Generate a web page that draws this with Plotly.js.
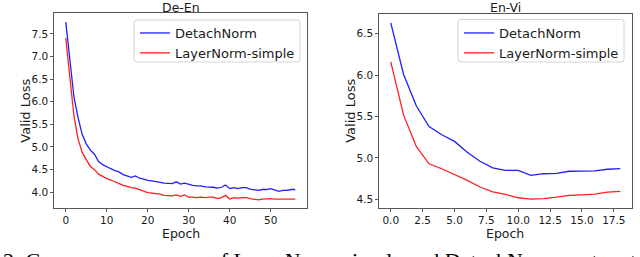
<!DOCTYPE html>
<html>
<head>
<meta charset="utf-8">
<script src="https://cdn.plot.ly/plotly-3.0.1.min.js"></script>
<style>
html,body{margin:0;padding:0;background:#fff;}
#chart{width:640px;height:257px;}
</style>
</head>
<body>
<div id="chart"></div>
<script>
// ---- data ----
const deEnEpochs = Array.from({length: 57}, (_, i) => i);
const deEnDetach = [7.76, 6.95, 6.10, 5.65, 5.28, 5.07, 4.93, 4.84, 4.68, 4.61,
  4.56, 4.52, 4.48, 4.45, 4.39, 4.36, 4.33, 4.36, 4.31, 4.29,
  4.26, 4.25, 4.24, 4.22, 4.20, 4.20, 4.19, 4.23, 4.18, 4.20,
  4.17, 4.15, 4.14, 4.14, 4.12, 4.12, 4.11, 4.09, 4.11, 4.16,
  4.08, 4.10, 4.08, 4.10, 4.10, 4.07, 4.05, 4.04, 4.06, 4.06,
  4.08, 4.05, 4.02, 4.04, 4.04, 4.06, 4.06];
const deEnSimple = [7.41, 6.55, 5.68, 5.18, 4.88, 4.72, 4.57, 4.50, 4.40, 4.35,
  4.30, 4.27, 4.23, 4.19, 4.15, 4.13, 4.10, 4.09, 4.06, 4.03,
  3.99, 3.98, 3.97, 3.96, 3.93, 3.92, 3.92, 3.94, 3.91, 3.94,
  3.89, 3.89, 3.88, 3.89, 3.88, 3.89, 3.89, 3.86, 3.88, 3.93,
  3.85, 3.88, 3.87, 3.88, 3.88, 3.86, 3.84, 3.83, 3.85, 3.86,
  3.86, 3.85, 3.85, 3.85, 3.86, 3.86, 3.85];

const enViEpochs = Array.from({length: 19}, (_, i) => i);
const enViDetach = [6.63, 6.01, 5.63, 5.38, 5.28, 5.20, 5.07, 4.96, 4.88, 4.85,
  4.85, 4.79, 4.81, 4.815, 4.84, 4.844, 4.844, 4.864, 4.872];
const enViSimple = [6.16, 5.52, 5.14, 4.93, 4.87, 4.80, 4.73, 4.65, 4.59, 4.56,
  4.52, 4.504, 4.51, 4.528, 4.55, 4.556, 4.564, 4.588, 4.596];

const seriesNames = ["DetachNorm", "LayerNorm-simple"];
const panelTitles = ["De-En", "En-Vi"];
const deEnXTicks = [0, 10, 20, 30, 40, 50];
const deEnYTicks = [4.0, 4.5, 5.0, 5.5, 6.0, 6.5, 7.0, 7.5];
const enViXTicks = [0, 2.5, 5, 7.5, 10, 12.5, 15, 17.5];
const enViYTicks = [4.5, 5.0, 5.5, 6.0, 6.5];
const xTitle = "Epoch";
const yTitle = "Valid Loss";
const caption = "Figure 2: Convergence curves of LayerNorm-simple and DetachNorm on two translation datasets.";

// ---- styles ----
const FONT = "DejaVu Sans, sans-serif";
const W = 640, H = 257;
const px = v => v / W, py = v => 1 - v / H;
const lineCol = "#555";
const txtCol = "#1a1a1a";

function trace(x, y, name, color, xa, ya, legend) {
  return {x, y, name, type: "scatter", mode: "lines",
    line: {color, width: 1.3}, xaxis: xa, yaxis: ya, legend};
}

const data = [
  trace(deEnEpochs, deEnDetach, seriesNames[0], "#1f1fff", "x", "y", "legend"),
  trace(deEnEpochs, deEnSimple, seriesNames[1], "#ff1f1f", "x", "y", "legend"),
  trace(enViEpochs, enViDetach, seriesNames[0], "#1f1fff", "x2", "y2", "legend2"),
  trace(enViEpochs, enViSimple, seriesNames[1], "#ff1f1f", "x2", "y2", "legend2")
];

function axisBase(len) {
  return {showgrid: false, zeroline: false, showline: true, mirror: true,
    linecolor: lineCol, linewidth: 1, ticks: "outside", ticklen: len, tickcolor: lineCol,
    tickfont: {family: FONT, size: 10.5, color: txtCol}, automargin: false};
}
function xaxis(domain, range, ticks, fmt, anchor) {
  return Object.assign(axisBase(2.5), {domain, range, tickvals: ticks, tickformat: fmt, anchor});
}
function yaxis(domain, range, ticks, anchor) {
  return Object.assign(axisBase(3), {domain, range, tickvals: ticks, tickformat: ".1f", anchor});
}

function legend(x, yTop) {
  return {x: px(x), y: py(yTop), xanchor: "left", yanchor: "top",
    bgcolor: "rgba(0,0,0,0)", borderwidth: 0,
    font: {family: FONT, size: 13, color: txtCol}, tracegroupgap: 0};
}

function roundBox(x0, y0, x1, y1, r) {
  const X = v => px(v), Y = v => py(v);
  return {type: "path", xref: "paper", yref: "paper", layer: "below",
    path: `M ${X(x0 + r)} ${Y(y0)} L ${X(x1 - r)} ${Y(y0)} Q ${X(x1)} ${Y(y0)} ${X(x1)} ${Y(y0 + r)} ` +
          `L ${X(x1)} ${Y(y1 - r)} Q ${X(x1)} ${Y(y1)} ${X(x1 - r)} ${Y(y1)} ` +
          `L ${X(x0 + r)} ${Y(y1)} Q ${X(x0)} ${Y(y1)} ${X(x0)} ${Y(y1 - r)} ` +
          `L ${X(x0)} ${Y(y0 + r)} Q ${X(x0)} ${Y(y0)} ${X(x0 + r)} ${Y(y0)} Z`,
    line: {color: "#d4d4d4", width: 1}, fillcolor: "#fff"};
}

function ann(text, x, y, size, extra) {
  return Object.assign({text, xref: "paper", yref: "paper", x: px(x), y: py(y),
    xanchor: "center", yanchor: "middle", showarrow: false, borderpad: 0,
    font: {family: FONT, size, color: txtCol}}, extra || {});
}

const layout = {
  width: W, height: H,
  margin: {l: 0, r: 0, t: 0, b: 0},
  paper_bgcolor: "#fff", plot_bgcolor: "#fff",
  showlegend: true,
  xaxis: xaxis([px(54.3), px(306.7)], [-2.8, 58.8], deEnXTicks, "d", "y"),
  yaxis: yaxis([py(208.3), py(13.3)], [3.645, 7.955], deEnYTicks, "x"),
  xaxis2: xaxis([px(379.3), px(631.7)], [-0.9, 18.9], enViXTicks, ".1f", "y2"),
  yaxis2: yaxis([py(208.3), py(14)], [4.393, 6.737], enViYTicks, "x2"),
  legend: legend(135, 18),
  legend2: legend(459, 18),
  shapes: [roundBox(134, 20, 300, 62, 3), roundBox(458, 19.5, 624, 62, 3)],
  annotations: [
    ann(panelTitles[0], 180.5, 7.5, 12.5),
    ann(panelTitles[1], 505.5, 7.5, 12.5),
    ann(yTitle, 26, 110.7, 13, {textangle: -90}),
    ann(yTitle, 350.5, 111.3, 13, {textangle: -90}),
    ann(xTitle, 181, 233.5, 12.5),
    ann(xTitle, 505, 233.5, 12.5),
    {text: caption, xref: "paper", yref: "paper", x: px(-62), y: py(246),
     xanchor: "left", yanchor: "top", showarrow: false,
     font: {family: "Liberation Serif, serif", size: 22, color: "#000"}}
  ]
};

Plotly.newPlot("chart", data, layout, {displayModeBar: false, staticPlot: true});
</script>
</body>
</html>
